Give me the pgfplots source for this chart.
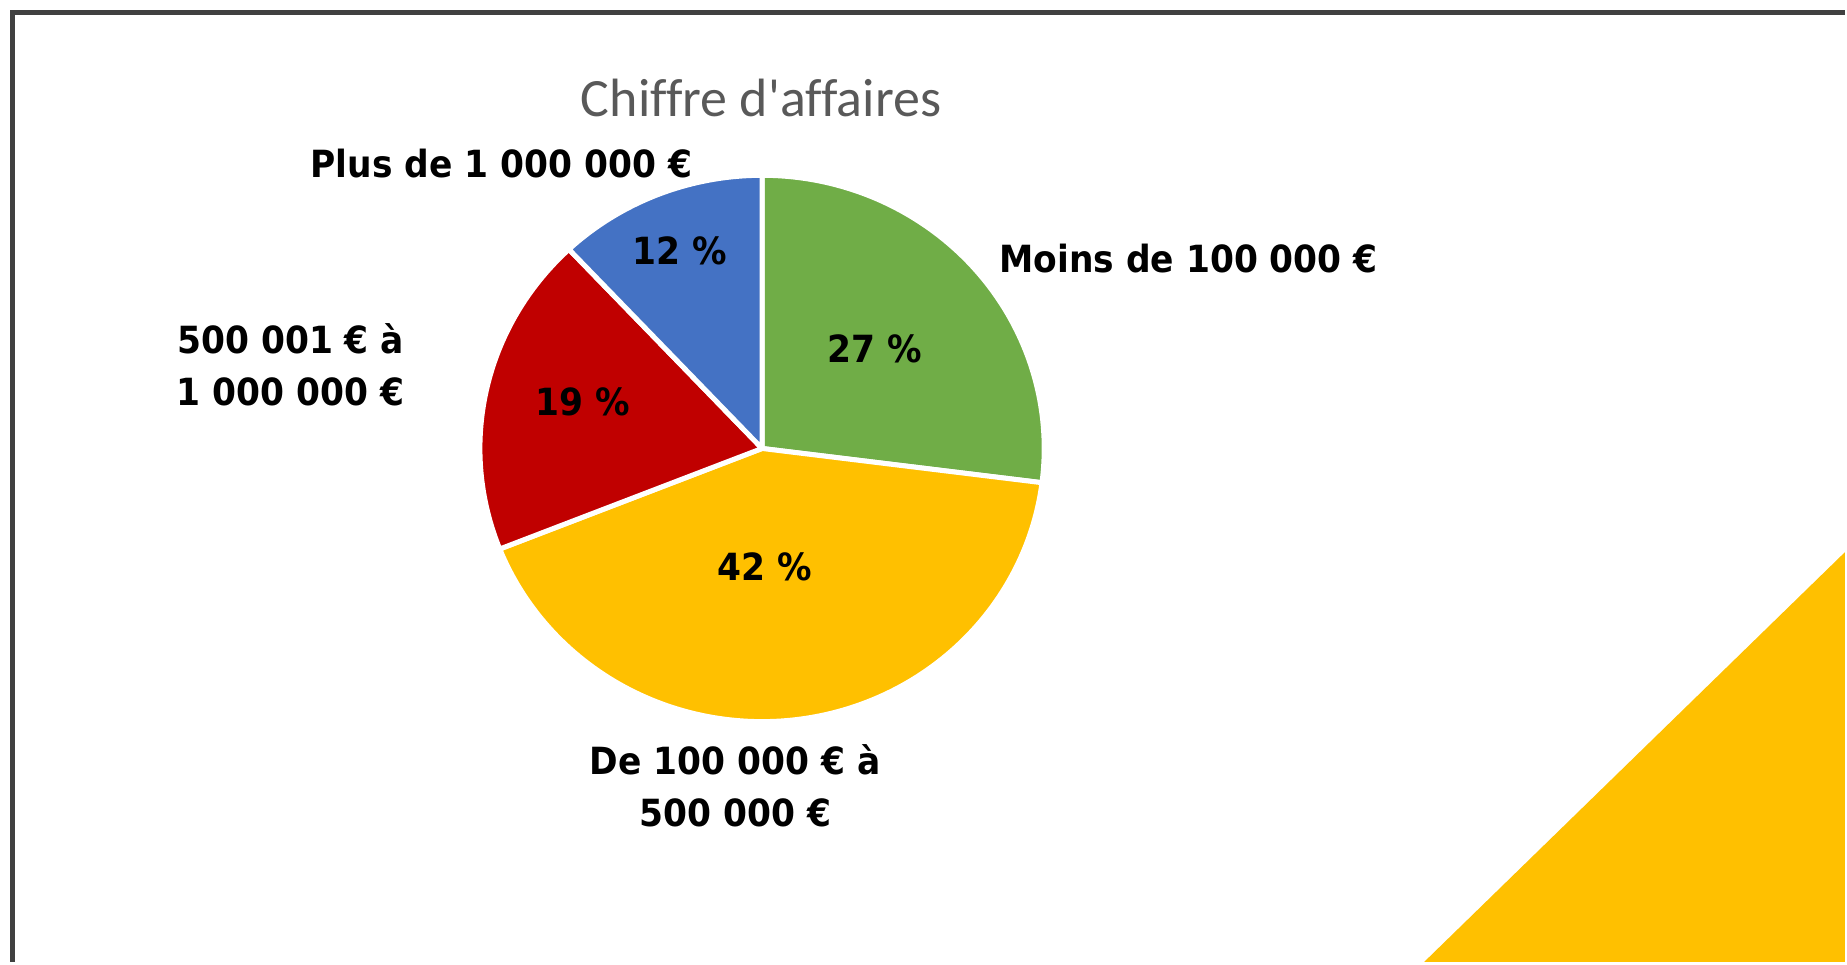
\documentclass[border=0pt]{standalone}
\usepackage{pgfplots}
\pgfplotsset{compat=1.18}
\usepackage{pgfplotstable}
\usepackage{fontspec}
\setmainfont{Carlito}
\newfontfamily\ttlfont{Carlito}[Ligatures={TeXOff,NoCommon}]
\newfontfamily\lbl{DejaVu Sans}[FakeStretch=0.92]
\definecolor{cgreen}{HTML}{70AD47}
\definecolor{cyellow}{HTML}{FFC000}
\definecolor{cred}{HTML}{C00000}
\definecolor{cblue}{HTML}{4472C4}
\definecolor{bordergray}{HTML}{404040}
\definecolor{titlegray}{HTML}{595959}

% Chiffre d'affaires: shares in percent, clockwise from 12 o'clock
\pgfplotstableread{
share
27
42
19
12
}\pietable

\begin{document}
\begin{tikzpicture}
\pgfplotstablegetelem{0}{share}\of\pietable \pgfmathsetmacro{\vA}{\pgfplotsretval}
\pgfplotstablegetelem{1}{share}\of\pietable \pgfmathsetmacro{\vB}{\pgfplotsretval}
\pgfplotstablegetelem{2}{share}\of\pietable \pgfmathsetmacro{\vC}{\pgfplotsretval}
\pgfplotstablegetelem{3}{share}\of\pietable \pgfmathsetmacro{\vD}{\pgfplotsretval}
\pgfmathsetmacro{\vS}{\vA+\vB+\vC+\vD}
\pgfmathsetmacro{\aO}{90}
\pgfmathsetmacro{\aA}{\aO-360*\vA/\vS}
\pgfmathsetmacro{\aB}{\aA-360*\vB/\vS}
\pgfmathsetmacro{\aC}{\aB-360*\vC/\vS}
\pgfmathsetmacro{\aD}{\aC-360*\vD/\vS}
\def\cx{763}\def\cy{514}\def\rx{282.5}\def\ry{273.5}
\begin{axis}[hide axis, scale only axis, width=184.7mm, height=96.3mm,
  xmin=0, xmax=1847, ymin=0, ymax=963, clip=false]
% full canvas (keeps the bounding box equal to the axis area)
\path (axis cs:0,0) rectangle (axis cs:1847,963);
% frame and decoration
\draw[bordergray, line width=0.45mm] (axis cs:12.3,0) -- (axis cs:12.3,950.7) -- (axis cs:1847,950.7);
\fill[cyellow] (axis cs:1426,0) -- (axis cs:1847,410) -- (axis cs:1847,0) -- cycle;
% slices
\fill[cgreen, draw=white, line width=0.5mm, line join=round] (axis cs:\cx,\cy) -- plot[domain=\aA:\aO, samples=90, variable=\t] (axis cs:{\cx+\rx*cos(\t)},{\cy+\ry*sin(\t)}) -- cycle;
\fill[cyellow, draw=white, line width=0.5mm, line join=round] (axis cs:\cx,\cy) -- plot[domain=\aB:\aA, samples=120, variable=\t] (axis cs:{\cx+\rx*cos(\t)},{\cy+\ry*sin(\t)}) -- cycle;
\fill[cred, draw=white, line width=0.5mm, line join=round] (axis cs:\cx,\cy) -- plot[domain=\aC:\aB, samples=70, variable=\t] (axis cs:{\cx+\rx*cos(\t)},{\cy+\ry*sin(\t)}) -- cycle;
\fill[cblue, draw=white, line width=0.5mm, line join=round] (axis cs:\cx,\cy) -- plot[domain=\aD:\aC, samples=50, variable=\t] (axis cs:{\cx+\rx*cos(\t)},{\cy+\ry*sin(\t)}) -- cycle;
% title
\node[font=\ttlfont\fontsize{15.36pt}{18pt}\selectfont, text=titlegray, inner sep=0pt] at (axis cs:762,865) {Chiffre d'affaires};
% percentages
\tikzset{pl/.style={font=\lbl\bfseries\fontsize{10.67pt}{14.8pt}\selectfont, inner sep=0pt, align=center}}
\node[pl] at (axis cs:681,712) {12 \%};
\node[pl] at (axis cs:583,561) {19 \%};
\node[pl] at (axis cs:876,614) {27 \%};
\node[pl] at (axis cs:766,395) {42 \%};
% category labels
\node[pl] at (axis cs:502,799) {Plus de 1 000 000 €};
\node[pl] at (axis cs:1190,704) {Moins de 100 000 €};
\node[pl] at (axis cs:291,598) {500 001 € à\\1 000 000 €};
\node[pl] at (axis cs:736,176) {De 100 000 € à\\500 000 €};
\end{axis}
\end{tikzpicture}
\end{document}
